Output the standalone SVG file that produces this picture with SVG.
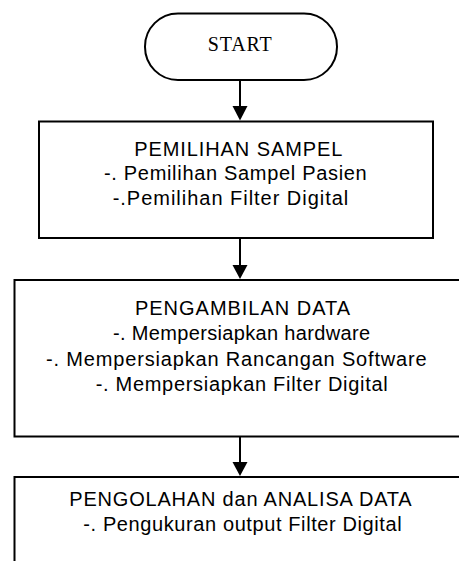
<svg xmlns="http://www.w3.org/2000/svg" width="459" height="561" viewBox="0 0 459 561">
  <style>
    .box { fill: #ffffff; stroke: #000000; stroke-width: 2; }
    .lbl { font-family: "Liberation Sans", Arial, sans-serif; font-size: 20px; fill: #000000; }
    .term { font-family: "Liberation Serif", "Times New Roman", serif; font-size: 20px; fill: #000000; }
    .flow { stroke: #000000; stroke-width: 2; fill: none; }
    .head { fill: #000000; }
  </style>
  <rect x="0" y="0" width="459" height="561" fill="#ffffff"/>

  <g id="start">
    <rect class="box" x="145" y="13.5" width="192" height="66.5" rx="33" ry="33"/>
    <text class="term" x="207.7" y="50.5" textLength="64">START</text>
  </g>

  <g id="pemilihan-sampel">
    <rect class="box" x="39" y="121.5" width="394" height="116.5"/>
    <text class="lbl" x="134.3" y="155.5" textLength="208">PEMILIHAN SAMPEL</text>
    <text class="lbl" x="104" y="180" textLength="262.7">-. Pemilihan Sampel Pasien</text>
    <text class="lbl" x="112.7" y="204.5" textLength="235.6">-.Pemilihan Filter Digital</text>
  </g>

  <g id="pengambilan-data">
    <rect class="box" x="14.5" y="280" width="460" height="156.5"/>
    <text class="lbl" x="135" y="315" textLength="215">PENGAMBILAN DATA</text>
    <text class="lbl" x="113" y="340" textLength="257">-. Mempersiapkan hardware</text>
    <text class="lbl" x="46" y="365.5" textLength="380.7">-. Mempersiapkan Rancangan Software</text>
    <text class="lbl" x="95.7" y="390.5" textLength="292">-. Mempersiapkan Filter Digital</text>
  </g>

  <g id="pengolahan-analisa">
    <rect class="box" x="14.5" y="477" width="460" height="100"/>
    <text class="lbl" x="69.3" y="506" textLength="342.4">PENGOLAHAN dan ANALISA DATA</text>
    <text class="lbl" x="83.3" y="530.5" textLength="318.4">-. Pengukuran output Filter Digital</text>
  </g>

  <g id="connectors">
    <line class="flow" x1="240" y1="80" x2="240" y2="107"/>
    <polygon class="head" points="232.5,106 247.5,106 240,120.5"/>
    <line class="flow" x1="240" y1="238" x2="240" y2="266"/>
    <polygon class="head" points="232.5,265 247.5,265 240,279"/>
    <line class="flow" x1="240" y1="436.5" x2="240" y2="463"/>
    <polygon class="head" points="232.5,462 247.5,462 240,476"/>
  </g>
</svg>
